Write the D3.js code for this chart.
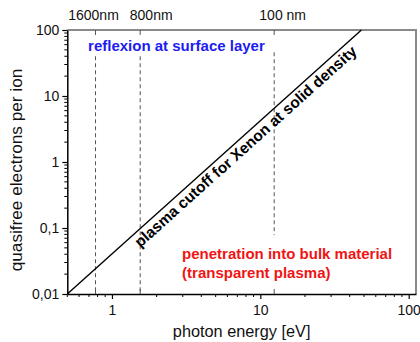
<!DOCTYPE html>
<html>
<head>
<meta charset="utf-8">
<script src="https://cdn.jsdelivr.net/npm/d3@7"></script>
<style>
  html, body { margin: 0; padding: 0; background: #fff; }
  svg { display: block; font-family: "Liberation Sans", Arial, Helvetica, sans-serif; }
</style>
</head>
<body>
<svg id="chart" width="420" height="342"></svg>
<script>
// Plasma cutoff line: quasifree electrons per ion vs photon energy (eV)
const cutoffEnergy = [0.5, 48];
const cutoffElectrons = [0.01, 100];

// Laser wavelengths marked on the top axis (nm) and their labels
const wavelengths = [1600, 800, 100];
const wavelengthLabels = ["1600nm", "800nm", "100 nm"];
// Vertical extent of each wavelength marker (electrons per ion)
const markerTop = [40, 40, 46];
const markerBottom = [0.01, 0.01, 0.078];

// Axis ticks
const xTickValues = [1, 10, 100];
const xTickLabels = ["1", "10", "100"];
const yTickValues = [0.01, 0.1, 1, 10, 100];
const yTickLabels = ["0,01", "0,1", "1", "10", "100"];

const xDomain = [0.5, 112];
const yDomain = [0.01, 100];

const svg = d3.select("#chart");
const margin = { left: 67.3, right: 4, top: 30, bottom: 48 };
const W = 420, H = 342;
const x = d3.scaleLog().domain(xDomain).range([margin.left, W - margin.right]);
const y = d3.scaleLog().domain(yDomain).range([H - margin.bottom, margin.top]);
const x0 = x.range()[0], x1 = x.range()[1];
const y0 = y.range()[0], y1 = y.range()[1];
const font = '"Liberation Sans", Arial, Helvetica, sans-serif';

// Frame: grey top and right edges
svg.append("path")
  .attr("d", `M${x0},${y1}H${x1}V${y0}`)
  .attr("fill", "none").attr("stroke", "#8a8a8a").attr("stroke-width", 2);

// Minor tick positions per decade
function minorTicks(domain) {
  const out = [];
  for (let e = -3; e <= 3; e++) {
    for (let m = 2; m <= 9; m++) {
      const v = m * Math.pow(10, e);
      if (v >= domain[0] * 0.999 && v <= domain[1] * 1.001) out.push(v);
    }
  }
  return out;
}

// Bottom axis
const xAxisG = svg.append("g").attr("transform", `translate(0,${y0})`);
xAxisG.call(d3.axisBottom(x).tickValues(xTickValues).tickFormat((d, i) => xTickLabels[i]).tickSize(5).tickSizeOuter(0))
  .call(g => g.select(".domain").attr("stroke-width", 1.5))
  .call(g => g.selectAll(".tick line").attr("stroke-width", 1.2))
  .call(g => g.selectAll(".tick text").attr("font-size", 14).attr("font-family", font).attr("fill", "#111").attr("dy", "0.95em"));
xAxisG.selectAll(".minor").data(minorTicks(xDomain)).join("line")
  .attr("x1", d => x(d)).attr("x2", d => x(d)).attr("y1", 0).attr("y2", 3)
  .attr("stroke", "#000").attr("stroke-width", 1);

// Left axis
const yAxisG = svg.append("g").attr("transform", `translate(${x0},0)`);
yAxisG.call(d3.axisLeft(y).tickValues(yTickValues).tickFormat((d, i) => yTickLabels[i]).tickSize(5).tickSizeOuter(0))
  .call(g => g.select(".domain").attr("stroke-width", 1.5))
  .call(g => g.selectAll(".tick line").attr("stroke-width", 1.2))
  .call(g => g.selectAll(".tick text").attr("font-size", 14).attr("font-family", font).attr("fill", "#111").attr("x", -8));
yAxisG.selectAll(".minor").data(minorTicks(yDomain)).join("line")
  .attr("x1", -3).attr("x2", 0).attr("y1", d => y(d)).attr("y2", d => y(d))
  .attr("stroke", "#000").attr("stroke-width", 1);

// Axis titles
svg.append("text")
  .attr("x", (x0 + x1) / 2).attr("y", 337)
  .attr("text-anchor", "middle").attr("font-size", 16.3).attr("fill", "#111")
  .text("photon energy [eV]");
svg.append("text")
  .attr("transform", `translate(21.5,${(y0 + y1) / 2 + 8}) rotate(-90)`)
  .attr("text-anchor", "middle").attr("font-size", 17.2).attr("fill", "#111")
  .text("quasifree electrons per ion");

// Wavelength markers (photon energy = hc / lambda)
const hc = 1239.84;
const markers = wavelengths.map((w, i) => ({ e: hc / w, label: wavelengthLabels[i], top: markerTop[i], bottom: markerBottom[i] }));
const labelShift = [-2, 11, 8.5];

const mg = svg.append("g");
mg.selectAll(".dash").data(markers).join("line")
  .attr("x1", d => x(d.e)).attr("x2", d => x(d.e))
  .attr("y1", d => y(d.top)).attr("y2", d => y(d.bottom))
  .attr("stroke", "#555").attr("stroke-width", 1).attr("stroke-dasharray", "4,3");
// inward ticks on top and bottom edges
mg.selectAll(".ttop").data(markers).join("line")
  .attr("x1", d => x(d.e)).attr("x2", d => x(d.e)).attr("y1", y1).attr("y2", y1 + 5)
  .attr("stroke", "#555").attr("stroke-width", 1);
mg.selectAll(".tbot").data(markers).join("line")
  .attr("x1", d => x(d.e)).attr("x2", d => x(d.e)).attr("y1", y0).attr("y2", y0 - 5)
  .attr("stroke", "#555").attr("stroke-width", 1);
mg.selectAll(".wl").data(markers).join("text")
  .attr("x", (d, i) => x(d.e) + labelShift[i]).attr("y", 20)
  .attr("text-anchor", "middle").attr("font-size", 14).attr("fill", "#111")
  .text(d => d.label);

// Cutoff line
const pts = cutoffEnergy.map((e, i) => [e, cutoffElectrons[i]]);
svg.append("path")
  .datum(pts)
  .attr("d", d3.line().x(d => x(d[0])).y(d => y(d[1])))
  .attr("fill", "none").attr("stroke", "#000").attr("stroke-width", 1.4);

// Label along the cutoff line
const p0 = [x(pts[0][0]), y(pts[0][1])], p1 = [x(pts[1][0]), y(pts[1][1])];
const ang = Math.atan2(p1[1] - p0[1], p1[0] - p0[0]);
const len = Math.hypot(p1[0] - p0[0], p1[1] - p0[1]);
const along = 0.585 * len, offset = 14.5;
const cx = p0[0] + Math.cos(ang) * along - Math.sin(ang) * offset;
const cy = p0[1] + Math.sin(ang) * along + Math.cos(ang) * offset;
svg.append("text")
  .attr("transform", `translate(${cx},${cy}) rotate(${ang * 180 / Math.PI})`)
  .attr("text-anchor", "middle").attr("font-size", 15.4).attr("font-weight", "bold").attr("fill", "#000")
  .text("plasma cutoff for Xenon at solid density");

// Region annotations
svg.append("text")
  .attr("x", x(0.69)).attr("y", y(48))
  .attr("font-size", 15).attr("font-weight", "bold").attr("fill", "#1c1cf0")
  .text("reflexion at surface layer");
const red = svg.append("text")
  .attr("x", x(2.97)).attr("y", y(0.0344))
  .attr("font-size", 15).attr("font-weight", "bold").attr("fill", "#f01414");
red.append("tspan").attr("x", x(2.97)).text("penetration into bulk material");
red.append("tspan").attr("x", x(2.97)).attr("dy", 19).text("(transparent plasma)");
</script>
</body>
</html>
